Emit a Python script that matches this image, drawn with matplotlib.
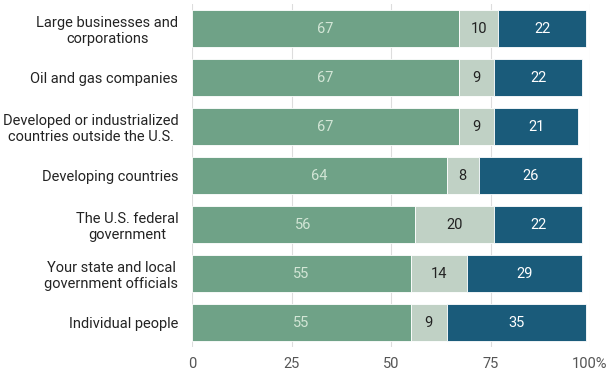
import matplotlib
matplotlib.use('Agg')
import matplotlib.pyplot as plt
from matplotlib import font_manager as fm
import numpy as np

# Prefer the static Roboto regular over the variable-width file
fm.fontManager.ttflist = [f for f in fm.fontManager.ttflist
                          if not (f.name == 'Roboto' and '[' in f.fname)]
plt.rcParams['font.family'] = ['Roboto', 'DejaVu Sans']

# Categories, top to bottom
categories = [
    'Large businesses and\ncorporations',
    'Oil and gas companies',
    'Developed or industrialized\ncountries outside the U.S.',
    'Developing countries',
    'The U.S. federal\ngovernment',
    'Your state and local\ngovernment officials',
    'Individual people',
]
too_much = [67, 67, 67, 64, 56, 55, 55]
about_right = [10, 9, 9, 8, 20, 14, 9]
too_little = [22, 22, 21, 26, 22, 29, 35]

tick_values = [0, 25, 50, 75, 100]
tick_labels = ['0', '25', '50', '75', '100%']

green = '#6fa287'
pale = '#c0d1c5'
blue = '#1a5b7a'

fig = plt.figure(figsize=(6.12, 3.74), dpi=100)
ax = fig.add_axes([0.314, 0.072, 0.65, 0.917])

y = np.arange(len(categories))
h = 0.76
left2 = np.array(too_much)
left3 = left2 + np.array(about_right)

ax.barh(y, too_much, height=h, color=green, edgecolor='white', linewidth=0.6, zorder=2)
ax.barh(y, about_right, left=left2, height=h, color=pale, edgecolor='white', linewidth=0.6, zorder=2)
ax.barh(y, too_little, left=left3, height=h, color=blue, edgecolor='white', linewidth=0.6, zorder=2)

for i in range(len(categories)):
    ax.text(too_much[i] / 2, y[i], str(too_much[i]), ha='center', va='center',
            color='#d3e6d6', fontsize=10.5)
    ax.text(left2[i] + about_right[i] / 2, y[i], str(about_right[i]), ha='center', va='center',
            color='#222222', fontsize=10.5)
    ax.text(left3[i] + too_little[i] / 2, y[i], str(too_little[i]), ha='center', va='center',
            color='white', fontsize=10.5)

ax.set_ylim(len(categories) - 0.5, -0.5)
ax.set_xlim(0, 100)
ax.set_yticks(y)
ax.set_yticklabels(categories, fontsize=10.5, color='#222222', ha='right',
                   multialignment='center', linespacing=1.15)
ax.set_xticks(tick_values)
ax.set_xticklabels(tick_labels, fontsize=10.5, color='#555555')
ax.tick_params(axis='both', length=0)
ax.tick_params(axis='y', pad=10)
ax.tick_params(axis='x', pad=7)
for s in ax.spines.values():
    s.set_visible(False)
ax.grid(axis='x', color='#dddddd', linewidth=0.8, zorder=0)
ax.set_axisbelow(True)

plt.savefig('out.png', dpi=100)
